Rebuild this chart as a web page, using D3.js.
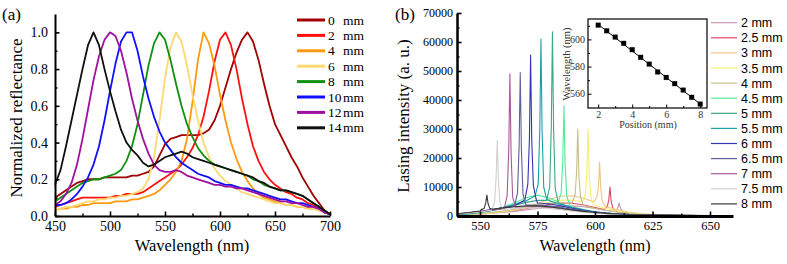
<!DOCTYPE html>
<html><head><meta charset="utf-8">
<script src="https://cdn.jsdelivr.net/npm/d3@7"></script>
<style>
body{margin:0;background:#fff}svg{display:block}
</style>
</head><body>
<svg id="c" width="787" height="264"></svg>
<script>
// ---------- Panel (a) data ----------
const refWave = [450,455,460,465,470,475,480,485,490,495,500,505,510,515,520,525,530,535,540,545,550,555,560,565,570,575,580,585,590,595,600,605,610,615,620,625,630,635,640,645,650,655,660,665,670,675,680,685,690,695,700];
const refLabels = ["0","2","4","6","8","10","12","14"];
const refColors = ["#a00000","#ff1010","#ff9a10","#ffd870","#109010","#1010ff","#a010a0","#101010"];
const ref0  = [0.10,0.12,0.14,0.16,0.18,0.19,0.20,0.20,0.20,0.21,0.21,0.21,0.21,0.21,0.22,0.22,0.23,0.24,0.27,0.33,0.39,0.42,0.43,0.44,0.44,0.44,0.44,0.45,0.47,0.52,0.60,0.70,0.80,0.89,0.96,1.00,0.95,0.85,0.72,0.60,0.50,0.44,0.38,0.32,0.27,0.21,0.16,0.11,0.07,0.03,0.01];
const ref2  = [0.05,0.06,0.07,0.08,0.09,0.10,0.10,0.10,0.10,0.10,0.10,0.11,0.11,0.12,0.12,0.12,0.13,0.15,0.17,0.19,0.21,0.23,0.25,0.28,0.32,0.37,0.44,0.54,0.68,0.84,0.96,1.00,0.93,0.80,0.64,0.50,0.38,0.30,0.24,0.20,0.17,0.15,0.13,0.12,0.10,0.09,0.07,0.06,0.04,0.02,0.01];
const ref4  = [0.03,0.04,0.04,0.05,0.05,0.06,0.06,0.07,0.07,0.07,0.07,0.08,0.08,0.08,0.09,0.09,0.10,0.11,0.12,0.14,0.17,0.20,0.24,0.30,0.42,0.62,0.85,1.00,0.94,0.82,0.66,0.52,0.40,0.31,0.24,0.19,0.15,0.12,0.10,0.09,0.08,0.07,0.06,0.06,0.05,0.05,0.04,0.04,0.03,0.02,0.01];
const ref6  = [0.03,0.04,0.05,0.05,0.06,0.07,0.08,0.08,0.09,0.09,0.10,0.10,0.11,0.11,0.12,0.13,0.15,0.20,0.32,0.52,0.75,0.92,1.00,0.95,0.82,0.66,0.52,0.40,0.32,0.26,0.22,0.19,0.17,0.15,0.13,0.12,0.11,0.10,0.09,0.08,0.07,0.07,0.06,0.06,0.05,0.05,0.04,0.04,0.03,0.02,0.01];
const ref8  = [0.08,0.10,0.12,0.14,0.16,0.18,0.19,0.20,0.20,0.21,0.22,0.23,0.25,0.30,0.38,0.50,0.66,0.82,0.94,1.00,0.96,0.85,0.72,0.60,0.50,0.43,0.37,0.33,0.30,0.28,0.27,0.26,0.25,0.24,0.23,0.22,0.20,0.19,0.17,0.16,0.15,0.14,0.14,0.13,0.12,0.11,0.09,0.07,0.05,0.03,0.01];
const ref10 = [0.06,0.06,0.07,0.09,0.12,0.16,0.21,0.28,0.38,0.52,0.68,0.83,0.95,1.00,1.00,0.90,0.76,0.64,0.54,0.46,0.40,0.36,0.32,0.29,0.27,0.25,0.23,0.22,0.21,0.19,0.18,0.17,0.17,0.16,0.15,0.15,0.14,0.13,0.12,0.11,0.10,0.09,0.09,0.08,0.07,0.07,0.06,0.05,0.04,0.02,0.01];
const ref12 = [0.06,0.08,0.12,0.18,0.28,0.42,0.58,0.74,0.87,0.96,1.00,0.98,0.90,0.78,0.64,0.52,0.42,0.34,0.28,0.25,0.24,0.24,0.25,0.24,0.22,0.21,0.20,0.19,0.18,0.17,0.17,0.16,0.16,0.15,0.15,0.14,0.13,0.12,0.11,0.10,0.09,0.08,0.08,0.07,0.07,0.06,0.05,0.05,0.04,0.02,0.01];
const ref14 = [0.17,0.25,0.38,0.52,0.66,0.80,0.93,1.00,0.93,0.80,0.68,0.57,0.47,0.40,0.36,0.33,0.29,0.27,0.28,0.30,0.32,0.33,0.34,0.35,0.34,0.32,0.31,0.30,0.29,0.28,0.27,0.26,0.25,0.24,0.23,0.22,0.21,0.19,0.18,0.16,0.15,0.14,0.14,0.13,0.12,0.11,0.09,0.07,0.05,0.03,0.01];
const refSeries = [ref0,ref2,ref4,ref6,ref8,ref10,ref12,ref14];
const refXTicks = [450,500,550,600,650,700];
const refYTicks = [0.0,0.2,0.4,0.6,0.8,1.0];

// ---------- Panel (b) data ----------
const lasLabels = ["2 mm","2.5 mm","3 mm","3.5 mm","4 mm","4.5 mm","5 mm","5.5 mm","6 mm","6.5 mm","7 mm","7.5 mm","8 mm"];
const lasColors = ["#c896b4","#e04464","#f0c484","#f4f070","#c4c08c","#50ec98","#3ca884","#1ca0a4","#3434b8","#60609c","#a85898","#d0d0d0","#383838"];
const humpWave = [540,545,550,555,560,565,570,575,580,585,590,595,600,605,610,615,620,630,640,650,660];
const hump2  = [300,400,600,900,1200,1600,2100,2600,3100,3400,3500,3200,2600,1900,1300,900,600,300,200,100,80];
const hump25 = [300,500,800,1100,1500,2000,2600,3300,4000,4500,4400,3800,2900,2100,1400,900,600,300,200,100,80];
const hump3  = [300,400,700,1000,1500,2200,3100,4300,5700,6800,7000,6100,4600,3200,2100,1300,800,400,200,100,80];
const hump35 = [300,400,700,1000,1500,2100,2900,3800,4700,5400,5500,4800,3700,2600,1700,1100,700,350,200,100,80];
const hump4  = [300,500,800,1200,1700,2300,3000,3700,4300,4500,4300,3600,2700,1900,1300,900,600,300,200,100,80];
const hump45 = [400,700,1200,1900,3000,4500,6300,7200,6200,4500,3200,2200,1500,1000,700,500,350,200,150,100,80];
const hump5  = [500,800,1200,1800,2600,3600,4700,5400,5200,4200,3000,2100,1400,1000,700,500,350,200,150,100,80];
const hump55 = [500,800,1300,2000,2900,4000,5200,6000,5300,4000,2900,2000,1400,1000,700,500,350,200,150,100,80];
const hump6  = [600,1000,1500,2100,2800,3500,4200,4500,4200,3500,2700,2000,1400,1000,700,500,400,250,150,100,80];
const hump65 = [700,1100,1600,2200,2800,3300,3700,3800,3500,3000,2300,1700,1200,900,650,500,400,250,150,100,80];
const hump7  = [700,1100,1500,2000,2500,2900,3200,3200,3000,2500,2000,1500,1100,800,600,450,350,250,150,100,80];
const hump75 = [700,1000,1400,1900,2300,2600,2800,2800,2600,2200,1700,1300,1000,700,500,400,300,200,150,100,80];
const hump8  = [800,1200,1700,2300,2800,3200,3500,3500,3200,2700,2100,1600,1200,900,700,500,400,300,200,150,100];
const humps = [hump2,hump25,hump3,hump35,hump4,hump45,hump5,hump55,hump6,hump65,hump7,hump75,hump8];
const peak2  = [[608,1700],[609.3,2000],[610,3000],[610.5,4500],[611,2900],[611.7,1800],[613,1100]];
const peak25 = [[604,2200],[605.3,3200],[606,5500],[606.5,10000],[607,5300],[607.7,2800],[609,1700]];
const peak3  = [[599.5,4800],[600.8,6500],[601.5,10000],[602,18500],[602.5,9500],[603.2,5000],[604.5,3300]];
const peak35 = [[594.5,4900],[595.8,7500],[596.5,15000],[597,30000],[597.5,14000],[598.2,6500],[599.5,3800]];
const peak4  = [[590,4500],[591.3,7000],[592,15000],[592.5,30000],[593,14000],[593.7,6500],[595,3600]];
const peak45 = [[584,4800],[585.3,8000],[586,19000],[586.5,38000],[587,18000],[587.7,7000],[589,3600]];
const peak5  = [[579,5400],[580.3,10000],[581,31000],[581.5,63500],[582,30000],[582.7,9500],[584,4600]];
const peak55 = [[574,7000],[575.3,11000],[576,30000],[576.5,61000],[577,29000],[577.7,10000],[579,5800]];
const peak6  = [[569.5,5500],[570.8,11000],[571.5,27000],[572,55500],[572.5,26000],[573.2,10500],[574.5,5500]];
const peak65 = [[565,3400],[566.3,8000],[567,24000],[567.5,49500],[568,23000],[568.7,7500],[570,3800]];
const peak7  = [[560.5,2400],[561.8,7000],[562.5,23000],[563,49000],[563.5,22000],[564.2,6500],[565.5,3000]];
const peak75 = [[555,2000],[556.3,4500],[557,13000],[557.5,26000],[558,12500],[558.7,4200],[560,2300]];
const peak8  = [[550.5,2200],[551.8,2600],[552.5,4500],[553,7200],[553.5,4300],[554.2,2700],[555.5,2300]];
const peaks = [peak2,peak25,peak3,peak35,peak4,peak45,peak5,peak55,peak6,peak65,peak7,peak75,peak8];
const lasXTicks = [550,575,600,625,650];
const lasYTicks = [0,10000,20000,30000,40000,50000,60000,70000];

// inset
const posX = [2,2.5,3,3.5,4,4.5,5,5.5,6,6.5,7,7.5,8];
const posY = [610.5,606.3,601.7,597.1,592.4,586.8,581.8,576.0,572.0,567.4,562.7,557.4,552.4];
const fitX = [2,8];
const fitY = [611,552.5];
const insXTicks = [2,4,6,8];
const insYTicks = [560,580,600];

// ---------- drawing ----------
const svg = d3.select("#c");

function styleAxis(g, fs, w){
  g.select(".domain").attr("stroke","#000").attr("stroke-width",w);
  g.selectAll(".tick line").attr("stroke","#000").attr("stroke-width",1.6);
  g.selectAll(".tick text").attr("font-size",fs).attr("fill","#000");
}
function minor(g, w){
  g.select(".domain").remove();
  g.selectAll("text").remove();
  g.selectAll("line").attr("stroke","#000").attr("stroke-width",w);
}

// Panel (a)
const xa = d3.scaleLinear().domain([450,700]).range([55,330]);
const ya = d3.scaleLinear().domain([0,1.1]).range([216,14]);
const ga = svg.append("g");
const lineA = d3.line().x((d,i)=>xa(refWave[i])).y(d=>ya(d));
refSeries.forEach((s,k)=>{
  ga.append("path").attr("d",lineA(s)).attr("fill","none").attr("stroke",refColors[k]).attr("stroke-width",1.8).attr("stroke-linejoin","round");
});
ga.append("g").attr("transform","translate(0,216)").call(d3.axisBottom(xa).tickValues([475,525,575,625,675]).tickSize(-2.5).tickFormat("")).call(g=>minor(g,1.4));
ga.append("g").attr("transform","translate(55,0)").call(d3.axisLeft(ya).tickValues([0.1,0.3,0.5,0.7,0.9]).tickSize(-2.5).tickFormat("")).call(g=>minor(g,1.4));
ga.append("g").attr("transform","translate(0,216)").call(d3.axisBottom(xa).tickValues(refXTicks).tickSize(-4.5).tickSizeOuter(0).tickPadding(5).tickFormat(d3.format("d"))).call(g=>styleAxis(g,14,2));
ga.append("g").attr("transform","translate(55,0)").call(d3.axisLeft(ya).tickValues(refYTicks).tickSize(-4.5).tickSizeOuter(0).tickPadding(7).tickFormat(d3.format(".1f"))).call(g=>styleAxis(g,14,2));
ga.append("text").attr("x",2).attr("y",20).attr("font-size",17).text("(a)");
ga.append("text").attr("transform","translate(22,118) rotate(-90)").attr("text-anchor","middle").attr("font-size",17).text("Normalized reflectance");
ga.append("text").attr("x",192).attr("y",251).attr("text-anchor","middle").attr("font-size",16.5).text("Wavelength (nm)");
const legA = ga.append("g");
refLabels.forEach((l,k)=>{
  const yy = 20 + k*15.4;
  legA.append("line").attr("x1",297).attr("x2",325).attr("y1",yy).attr("y2",yy).attr("stroke",refColors[k]).attr("stroke-width",3);
  legA.append("text").attr("x",328).attr("y",yy+4.5).attr("font-size",13.5).text(l);
  legA.append("text").attr("x",343).attr("y",yy+4.5).attr("font-size",13.5).text("mm");
});

// Panel (b)
const xb = d3.scaleLinear().domain([540,660]).range([457,733]);
const yb = d3.scaleLinear().domain([0,70000]).range([216,13]);
const gb = svg.append("g");
const lineB = d3.line().x(d=>xb(d[0])).y(d=>yb(d[1]));
humps.forEach((h,k)=>{
  const pk = peaks[k];
  const lo = pk[0][0], hi = pk[pk.length-1][0];
  const pts = humpWave.map((w,i)=>[w,h[i]]).filter(p=>p[0]<lo||p[0]>hi).concat(pk).sort((a,b)=>a[0]-b[0]);
  gb.append("path").attr("d",lineB(pts)).attr("fill","none").attr("stroke",lasColors[k]).attr("stroke-width",1.1).attr("stroke-linejoin","round");
});
gb.append("g").attr("transform","translate(0,216)").call(d3.axisBottom(xb).tickValues([562.5,587.5,612.5,637.5]).tickSize(-2.5).tickFormat("")).call(g=>minor(g,1.4));
gb.append("g").attr("transform","translate(457,0)").call(d3.axisLeft(yb).tickValues([5000,15000,25000,35000,45000,55000,65000]).tickSize(-2.5).tickFormat("")).call(g=>minor(g,1.4));
gb.append("g").attr("transform","translate(0,216)").call(d3.axisBottom(xb).tickValues(lasXTicks).tickSize(-4.5).tickSizeOuter(0).tickPadding(5).tickFormat(d3.format("d"))).call(g=>styleAxis(g,12.5,2.8));
gb.append("g").attr("transform","translate(457,0)").call(d3.axisLeft(yb).tickValues(lasYTicks).tickSize(-4.5).tickSizeOuter(0).tickPadding(4).tickFormat(d3.format("d"))).call(g=>styleAxis(g,12,2.5));
gb.append("text").attr("x",395).attr("y",20).attr("font-size",17).text("(b)");
gb.append("text").attr("transform","translate(409,116) rotate(-90)").attr("text-anchor","middle").attr("font-size",17).text("Lasing intensity (a. u.)");
gb.append("text").attr("x",595).attr("y",251).attr("text-anchor","middle").attr("font-size",16).text("Wavelength (nm)");

// inset
const xi = d3.scaleLinear().domain([1.4,8.4]).range([588,707]);
const yi = d3.scaleLinear().domain([549.5,615]).range([108,19]);
const gi = svg.append("g");
gi.append("rect").attr("x",xi(1.4)).attr("y",yi(615)).attr("width",xi(8.4)-xi(1.4)).attr("height",yi(549.5)-yi(615)).attr("fill","#fff").attr("stroke","#000").attr("stroke-width",1.2);
gi.append("g").attr("transform","translate(0,108)").call(d3.axisBottom(xi).tickValues([3,5,7]).tickSize(-2).tickFormat("")).call(g=>minor(g,1));
gi.append("g").attr("transform","translate(588,0)").call(d3.axisLeft(yi).tickValues([570,590,610]).tickSize(-2).tickFormat("")).call(g=>minor(g,1));
gi.append("g").attr("transform","translate(0,108)").call(d3.axisBottom(xi).tickValues(insXTicks).tickSize(-3.5).tickSizeOuter(0).tickPadding(3).tickFormat(d3.format("d"))).call(g=>{g.select(".domain").remove();g.selectAll("line").attr("stroke","#000");g.selectAll("text").attr("font-size",10).attr("fill","#333");});
gi.append("g").attr("transform","translate(588,0)").call(d3.axisLeft(yi).tickValues(insYTicks).tickSize(-3.5).tickSizeOuter(0).tickPadding(3).tickFormat(d3.format("d"))).call(g=>{g.select(".domain").remove();g.selectAll("line").attr("stroke","#000");g.selectAll("text").attr("font-size",10).attr("fill","#333");});
gi.append("path").attr("d",d3.line().x((d,i)=>xi(fitX[i])).y(d=>yi(d))(fitY)).attr("stroke","#000").attr("stroke-width",1).attr("fill","none");
gi.selectAll("rect.pt").data(posY).enter().append("rect").attr("class","pt")
  .attr("x",(d,i)=>xi(posX[i])-2.5).attr("y",d=>yi(d)-2.5).attr("width",5).attr("height",5).attr("fill","#000");
gi.append("text").attr("x",648).attr("y",128).attr("text-anchor","middle").attr("font-size",10).attr("fill","#333").text("Position (mm)");
gi.append("text").attr("transform","translate(570,64) rotate(-90)").attr("text-anchor","middle").attr("font-size",10.5).attr("fill","#333").text("Wavelength (nm)");

// serif everywhere except legend (b)
svg.selectAll("g").attr("font-family",null);
svg.selectAll("text").style("font-family","Liberation Serif");

const legB = svg.append("g");
lasLabels.forEach((l,k)=>{
  const yy = 22.7 + k*15.1;
  legB.append("line").attr("x1",711).attr("x2",737).attr("y1",yy).attr("y2",yy).attr("stroke",lasColors[k]).attr("stroke-width",1.2);
  legB.append("text").attr("x",741).attr("y",yy+4.5).style("font-family","Liberation Sans").attr("font-size",12.5).text(l);
});
</script></body></html>
